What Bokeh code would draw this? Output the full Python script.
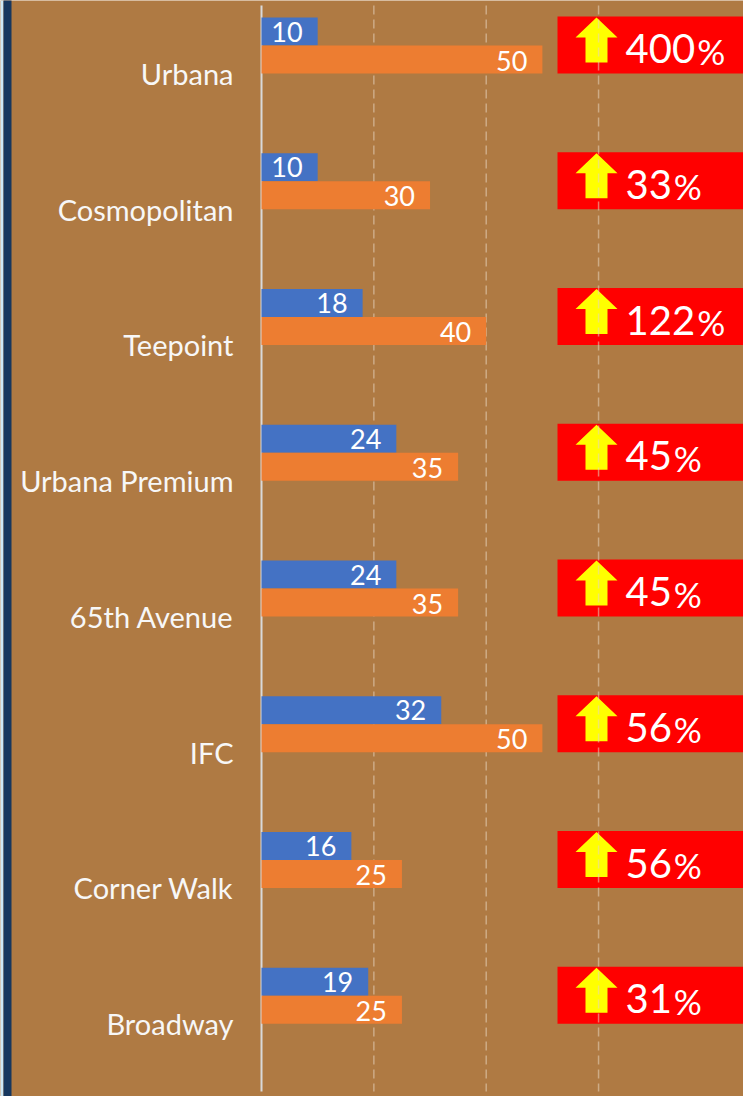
from bokeh.plotting import figure
from bokeh.models import Range1d
from bokeh.core.properties import value
from bokeh.embed import file_html
from bokeh.resources import INLINE

# ---- data ----
categories = ["Urbana", "Cosmopolitan", "Teepoint", "Urbana Premium",
              "65th Avenue", "IFC", "Corner Walk", "Broadway"]
before = [10, 10, 18, 24, 24, 32, 16, 19]
after = [50, 30, 40, 35, 35, 50, 25, 25]
growth = [400, 33, 122, 45, 45, 56, 56, 31]
grid_ticks = [20, 40, 60]

# ---- layout constants ----
W, H = 743, 1096
AXIS_X = 261                      # screen x of the value axis (0)
TOP, BOTTOM = 5, 5
X_MAX = 85.8
PXX = (W - AXIS_X) / X_MAX        # px per x unit
n = len(categories)
BAND = (H - TOP - BOTTOM) / n     # px per category band
BROWN = "#AF7A43"
FONT = "Lato"

idx = list(range(n))


def yb(i, px):
    return i + px / BAND


def xb(px_ref):
    return (px_ref - AXIS_X) / PXX


p = figure(width=W, height=H, output_backend="svg", toolbar_location=None,
           x_range=Range1d(xb(0), X_MAX),
           y_range=Range1d(n + BOTTOM / BAND, -TOP / BAND),
           x_axis_location=None, y_axis_location=None,
           min_border=0)
p.background_fill_color = BROWN
p.border_fill_color = BROWN
p.outline_line_color = None
p.grid.visible = False

# left edge strips
p.quad(left=[xb(0)], right=[xb(3)], top=[-1], bottom=[n + 1],
       fill_color="#CDE8F6", line_color=None)
p.quad(left=[xb(3)], right=[xb(11)], top=[-1], bottom=[n + 1],
       fill_color="#17375E", line_color=None)

# red boxes and arrows
p.quad(left=[xb(557)] * n, right=[X_MAX + 5] * n,
       top=[yb(i, 11) for i in idx], bottom=[yb(i, 68) for i in idx],
       fill_color="#FF0000", line_color=None)
xs, ys = [], []
for i in idx:
    xs.append([xb(575), xb(596), xb(617), xb(607), xb(607), xb(585), xb(585)])
    ys.append([yb(i, 32), yb(i, 12), yb(i, 32), yb(i, 32), yb(i, 57), yb(i, 57), yb(i, 32)])
p.patches(xs, ys, fill_color="#FFFF00", line_color=None)

# dashed vertical gridlines
p.segment(x0=grid_ticks, x1=grid_ticks, y0=[0] * len(grid_ticks), y1=[n] * len(grid_ticks),
          line_color="#E6D3BE", line_alpha=0.55, line_width=1.5, line_dash="9 5")

# value axis line
p.segment(x0=[0], x1=[0], y0=[0], y1=[n], line_color="#D9D9D9", line_width=2)

# category labels
p.text(x=[0] * n, y=[i + 0.5 for i in idx], text=categories, x_offset=-28,
       text_align="right", text_baseline="middle", text_font=value(FONT),
       text_font_size="29px", text_color="#F7F7F7")

# bars
bh = 28 / BAND
p.hbar(y=[yb(i, 26) for i in idx], left=0, right=before, height=bh,
       fill_color="#4472C4", line_color=None)
p.hbar(y=[yb(i, 54) for i in idx], left=0, right=after, height=bh,
       fill_color="#ED7D31", line_color=None)

# bar value labels
p.text(x=before, y=[yb(i, 26) for i in idx], text=[str(v) for v in before],
       x_offset=-15, text_align="right", text_baseline="middle",
       text_font=value(FONT), text_font_size="27px", text_color="white")
p.text(x=after, y=[yb(i, 55) for i in idx], text=[str(v) for v in after],
       x_offset=-15, text_align="right", text_baseline="middle",
       text_font=value(FONT), text_font_size="27px", text_color="white")

# growth labels
gx = [xb(625)] * n
p.text(x=gx, y=[yb(i, 43) for i in idx], text=[str(v) for v in growth],
       text_align="left", text_baseline="middle", text_font=value(FONT),
       text_font_size="40px", text_color="white")
p.text(x=gx, y=[yb(i, 45) for i in idx], text=["%"] * n,
       x_offset=[len(str(v)) * 23.6 + 1 for v in growth],
       text_align="left", text_baseline="middle", text_font=value(FONT),
       text_font_size="35px", text_color="white")

open("out.html", "w").write(file_html(p, INLINE))
